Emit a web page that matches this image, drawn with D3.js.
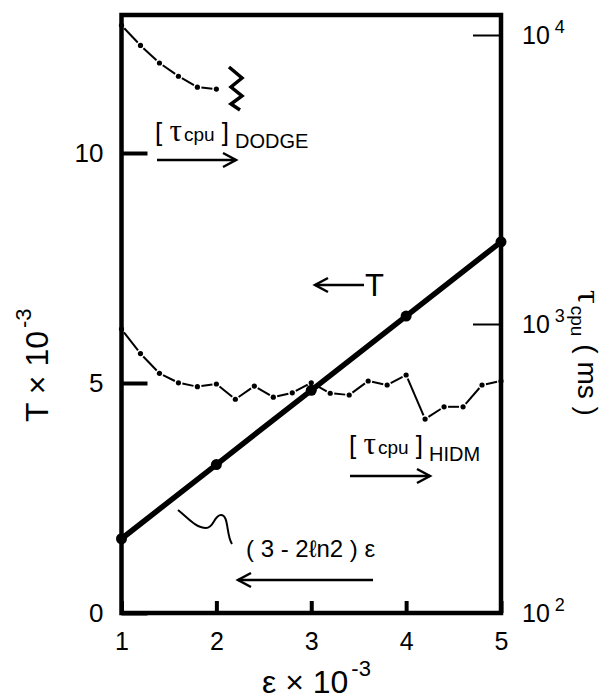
<!DOCTYPE html>
<html><head><meta charset="utf-8">
<script src="https://cdn.jsdelivr.net/npm/d3@7"></script>
<style>body{margin:0;background:#fff}</style>
</head><body>
<svg id="c" width="610" height="699"></svg>
<script>
// ---------- data ----------
const epsTicks = [1, 2, 3, 4, 5];
const tTicks = [0, 5, 10];
const cpuTicks = [100, 1000, 10000];
const cpuTickExp = ["2", "3", "4"];
// T = (3 - 2 ln2) * eps  (x 10^-3)
const tEps  = [1, 2, 3, 4, 5];
const tVals = [1.614, 3.227, 4.841, 6.455, 8.069];
// [tau_cpu]_DODGE  (ms, right log axis)
const dodgeEps = [1.0, 1.2, 1.4, 1.6, 1.8, 2.0];
const dodgeCpu = [10800, 9200, 8000, 7200, 6600, 6500];
// [tau_cpu]_HIDM  (ms, right log axis)
const hidmEps = [1.0, 1.2, 1.4, 1.6, 1.8, 2.0, 2.2, 2.4, 2.6, 2.8, 3.0,
                 3.2, 3.4, 3.6, 3.8, 4.0, 4.2, 4.4, 4.6, 4.8, 5.0];
const hidmCpu = [960, 790, 675, 626, 607, 620, 549, 610, 558, 578, 626,
                 576, 568, 635, 615, 666, 469, 517, 517, 615, 635];

// ---------- setup ----------
const FONT = "'Liberation Sans', Arial, Helvetica, sans-serif";
const GREEK = "'Liberation Serif', 'DejaVu Serif', serif";
const svg = d3.select("#c");
const X0 = 121.5, X1 = 501, Y0 = 613, Y1 = 15;

const x  = d3.scaleLinear().domain([1, 5]).range([X0, X1]);
const yL = d3.scaleLinear().domain([0, 13]).range([Y0, Y1]);
const yR = d3.scaleLog().domain([100, 10000]).range([Y0, 35]);

// ---------- axes ----------
const gL = svg.append("g").attr("transform", `translate(${X0},0)`)
  .call(d3.axisLeft(yL).tickValues(tTicks).tickSize(-26).tickPadding(18).tickFormat(d3.format("d")));
gL.select(".domain").remove();
gL.selectAll(".tick line").attr("stroke", "#000").attr("stroke-width", 4);
gL.selectAll(".tick text").attr("font-size", 26).attr("font-family", FONT).attr("fill", "#000");

const gB = svg.append("g").attr("transform", `translate(0,${Y0})`)
  .call(d3.axisBottom(x).tickValues(epsTicks).tickSize(-12).tickPadding(19).tickFormat(d3.format("d")));
gB.select(".domain").remove();
gB.selectAll(".tick line").attr("stroke", "#000").attr("stroke-width", 4);
gB.selectAll(".tick text").attr("font-size", 25).attr("font-family", FONT).attr("fill", "#000");

const gR = svg.append("g").attr("transform", `translate(${X1},0)`)
  .call(d3.axisRight(yR).tickValues(cpuTicks).tickSize(-28).tickPadding(21).tickFormat(() => ""));
gR.select(".domain").remove();
gR.selectAll(".tick line").attr("stroke", "#000").attr("stroke-width", 2);
gR.selectAll(".tick text").each(function(d, i) {
  const t = d3.select(this).attr("font-family", FONT).attr("fill", "#000").attr("font-size", 25);
  t.text(null);
  t.append("tspan").text("10");
  t.append("tspan").attr("font-size", 18).attr("dy", "-0.6em").attr("dx", 5).text(cpuTickExp[i]);
});

// frame
svg.append("rect").attr("x", X0).attr("y", Y1).attr("width", X1 - X0).attr("height", Y0 - Y1)
  .attr("fill", "none").attr("stroke", "#000").attr("stroke-width", 4.5);

// ---------- dash-dot curves ----------
function dashDot(epsArr, valArr, yScale) {
  const pts = epsArr.map((e, i) => [x(e), yScale(valArr[i])]);
  const g = svg.append("g");
  for (let i = 0; i < pts.length - 1; i++) {
    const [ax, ay] = pts[i], [bx, by] = pts[i + 1];
    const dx = bx - ax, dy = by - ay, L = Math.hypot(dx, dy), gap = 4;
    g.append("line")
      .attr("x1", ax + dx * gap / L).attr("y1", ay + dy * gap / L)
      .attr("x2", bx - dx * gap / L).attr("y2", by - dy * gap / L)
      .attr("stroke", "#000").attr("stroke-width", 2);
  }
  g.selectAll("circle").data(pts).join("circle")
    .attr("cx", d => d[0]).attr("cy", d => d[1]).attr("r", 2.6).attr("fill", "#000");
}
dashDot(dodgeEps, dodgeCpu, yR);
dashDot(hidmEps, hidmCpu, yR);

// break symbol after DODGE curve
svg.append("path")
  .attr("d", "M229,67 L242,78 L231,87 L242,96 L231,104 L240,110")
  .attr("fill", "none").attr("stroke", "#000").attr("stroke-width", 3.5).attr("stroke-linejoin", "miter");

// ---------- T line ----------
svg.append("path")
  .datum(tEps.map((e, i) => [e, tVals[i]]))
  .attr("d", d3.line().x(d => x(d[0])).y(d => yL(d[1])))
  .attr("fill", "none").attr("stroke", "#000").attr("stroke-width", 5.5);
svg.append("g").selectAll("circle").data(tEps).join("circle")
  .attr("cx", d => x(d)).attr("cy", (d, i) => yL(tVals[i])).attr("r", 5.5).attr("fill", "#000");

// ---------- annotations ----------
function arrow(xa, xb, y, dir) {
  svg.append("line").attr("x1", xa).attr("x2", xb).attr("y1", y).attr("y2", y)
    .attr("stroke", "#000").attr("stroke-width", 2.5);
  const hx = dir > 0 ? xb : xa, s = dir > 0 ? -1 : 1;
  svg.append("path").attr("d", `M${hx + s * 13},${y - 7} L${hx},${y} L${hx + s * 13},${y + 7}`)
    .attr("fill", "none").attr("stroke", "#000").attr("stroke-width", 2.5);
}
function tauLabel(x0, yb, sub) {
  const t = svg.append("text").attr("x", x0).attr("y", yb).attr("font-family", FONT).attr("fill", "#000");
  t.append("tspan").attr("font-size", 26).text("[ ");
  t.append("tspan").attr("font-size", 31).attr("font-family", GREEK).text("τ");
  t.append("tspan").attr("font-size", 19).attr("dx", 2).text("cpu");
  t.append("tspan").attr("font-size", 26).text(" ]");
  t.append("tspan").attr("font-size", 20).attr("dy", 7).attr("dx", 6).text(sub);
}
tauLabel(155, 141, "DODGE");
arrow(157, 236, 160, 1);

tauLabel(349, 454, "HIDM");
arrow(350, 430, 476, 1);

arrow(315, 364, 285, -1);
svg.append("text").attr("x", 365).attr("y", 296).attr("font-family", FONT)
  .attr("font-size", 31).attr("fill", "#000").text("T");

svg.append("text").attr("x", 246).attr("y", 557).attr("font-family", FONT)
  .attr("font-size", 24).attr("fill", "#000")
  .text("( 3 - 2ℓn2 ) ε");
arrow(238, 373, 580, -1);

svg.append("path")
  .attr("d", "M178,510 C188,518 196,528 206,528 C214,528 214,515 221,515 C229,515 226,535 232,544")
  .attr("fill", "none").attr("stroke", "#000").attr("stroke-width", 2);

// ---------- axis titles ----------
const xt = svg.append("text").attr("x", 262).attr("y", 693).attr("font-family", FONT)
  .attr("font-size", 32).attr("fill", "#000");
xt.append("tspan").text("ε × 10");
xt.append("tspan").attr("font-size", 22).attr("dy", -17).attr("dx", 3).text("-3");

const yt = svg.append("text").attr("transform", "translate(48,422) rotate(-90)")
  .attr("font-family", FONT).attr("font-size", 32).attr("fill", "#000");
yt.append("tspan").text("T × 10");
yt.append("tspan").attr("font-size", 22).attr("dy", -17).attr("dx", 3).text("-3");

const rt = svg.append("text").attr("transform", "translate(578,290) rotate(90)")
  .attr("font-family", FONT).attr("font-size", 28).attr("fill", "#000");
rt.append("tspan").attr("font-family", GREEK).attr("font-size", 34).text("τ");
rt.append("tspan").attr("font-size", 19).attr("dy", 7).attr("dx", 2).text("cpu");
rt.append("tspan").attr("dy", -7).attr("dx", 8).text("( ms )");
</script>
</body></html>
